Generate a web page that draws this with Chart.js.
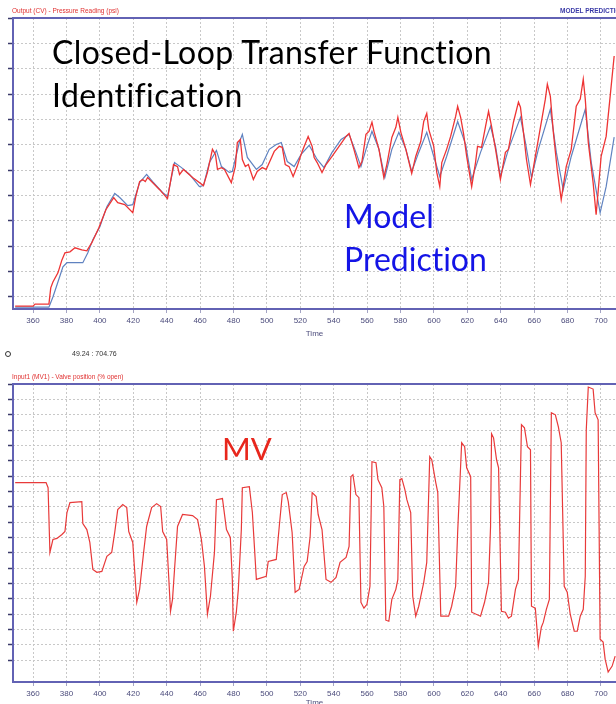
<!DOCTYPE html>
<html>
<head>
<meta charset="utf-8">
<script src="https://cdn.jsdelivr.net/npm/chart.js@4.4.0/dist/chart.umd.min.js"></script>
<style>
  html, body { margin: 0; padding: 0; background: #fff; }
  body { width: 616px; height: 704px; overflow: hidden; position: relative; }
  .wrap { position: absolute; left: 0; width: 616px; }
  #top-wrap { top: 0; height: 345px; }
  #bot-wrap { top: 345px; height: 370px; }
  .note { position: absolute; white-space: nowrap; line-height: 1; }
  .small { font-family: "Liberation Sans", Arial, sans-serif; font-size: 6.5px; }
  .big { font-family: Lato, "Open Sans", sans-serif; font-variant-ligatures: none; }
  .dot { position: absolute; left: 5px; top: 351px; width: 4px; height: 4px; border: 1px solid #333; border-radius: 50%; }
</style>
</head>
<body>
<div class="wrap" id="top-wrap"><canvas id="cvChart" width="616" height="345"></canvas></div>
<div class="wrap" id="bot-wrap"><canvas id="mvChart" width="616" height="370"></canvas></div>

<div class="note small" style="left:12px;top:8px;color:#e03030">Output (CV) - Pressure Reading (psi)</div>
<div class="note small" style="left:560px;top:8px;color:#3b3ba8;font-weight:bold">MODEL PREDICTION</div>
<div class="dot"></div>
<div class="note small" style="left:72px;top:350px;color:#333;font-size:7px">49.24 : 704.76</div>
<div class="note small" style="left:12px;top:374px;color:#e03030">Input1 (MV1) - Valve position (% open)</div>

<div class="note big" style="left:52px;top:36px;font-size:32px;letter-spacing:0.4px;color:#000">Closed-Loop Transfer Function</div>
<div class="note big" style="left:52px;top:79px;font-size:32px;letter-spacing:0.4px;color:#000">Identification</div>
<div class="note big" style="left:344px;top:200px;font-size:32px;color:#1414e6">Model</div>
<div class="note big" style="left:344px;top:243px;font-size:32px;color:#1414e6">Prediction</div>
<div class="note big" style="left:222px;top:433px;font-size:31px;color:#e8261c">MV</div>

<script>
// Time axis (shared)
const xMin = 348;
const xMax = 709;
const xStep = 20;

// Top chart: measured CV (red) and model prediction (blue), one unit per grid line
const cvMin = -0.475;
const cvMax = 11;
const cvTime = [349.3,360.0,361.2,369.5,370.6,371.9,374.9,377.3,379.1,382.1,385.1,389.2,392.2,395.2,399.4,403.6,408.3,410.7,414.9,419.7,
  421.5,423.8,425.6,427.2,428.6,435.8,440.5,444.1,446.5,447.7,450.1,455.5,462.0,464.4,467.4,469.2,470.4,472.8,474.6,478.7,
  481.1,482.3,484.1,485.3,487.1,488.9,491.9,494.2,497.2,499.6,504.4,507.4,509.2,511.0,513.3,515.7,518.1,521.1,524.7,527.1,
  528.3,530.1,533.0,535.4,539.0,543.2,547.4,549.2,552.1,555.1,556.9,559.3,561.1,562.9,564.1,567.1,570.0,571.8,574.8,577.2,
  578.4,580.2,583.2,586.7,589.1,592.1,593.9,595.7,596.9,599.9,601.7,603.5,604.7,607.6,610.0,613.0,614.2,616.0,617.8,619.6,
  622.6,624.9,626.1,628.5,630.9,632.7,634.5,636.9,639.8,642.8,644.6,647.6,650.6,651.8,653.6,655.4,657.8,660.7,662.5,666.7,
  667.9,669.7,671.5,673.8,676.2,679.2,682.2,685.2,687.6,689.4,690.6,692.4,695.3,697.1,700.1,703.1,705.5,707.9];
const cvValue = [-0.36,-0.36,-0.28,-0.28,0.36,0.59,0.95,1.46,1.74,1.78,1.94,1.86,1.82,2.14,2.73,3.44,3.92,3.72,3.64,3.32,
  3.96,4.55,4.63,4.55,4.71,4.23,3.88,5.22,5.14,4.83,5.03,4.71,4.39,4.91,5.82,5.62,5.03,5.10,5.03,4.51,
  5.14,6.09,6.21,5.42,5.14,5.22,4.63,4.95,5.10,5.03,5.74,5.94,5.90,5.22,5.14,4.75,5.14,5.74,6.33,5.94,
  5.50,5.30,4.91,5.22,5.54,5.94,6.33,6.45,5.82,5.10,5.34,6.41,6.53,6.89,6.53,5.82,4.71,5.22,6.29,6.69,
  7.08,6.49,5.82,4.87,5.54,6.13,6.92,7.24,6.61,5.94,4.91,4.35,5.30,5.82,6.33,7.12,7.52,7.08,6.41,5.54,
  4.35,5.30,5.94,5.90,6.73,7.32,6.73,5.82,4.63,5.70,5.82,6.89,7.68,7.48,6.49,5.42,4.43,5.54,6.21,7.80,
  8.39,7.91,6.49,5.03,3.84,5.14,5.82,7.52,7.80,8.59,7.80,6.09,4.51,3.24,5.54,6.33,7.91,9.50];

const modelTime = [349.3,369.5,371.9,374.9,377.9,380.3,389.8,392.8,395.8,400.0,404.2,408.9,411.9,416.7,419.7,423.8,428.0,431.6,437.5,440.5,
  444.7,448.9,453.7,459.6,462.0,465.6,469.8,472.8,477.5,479.3,483.5,485.3,488.3,493.7,497.2,501.4,505.6,508.6,512.2,516.3,
  520.5,525.3,530.1,534.2,539.0,544.4,549.2,553.3,556.3,559.9,562.9,567.1,570.6,574.8,579.0,583.2,586.7,590.9,595.7,599.9,
  603.5,607.6,614.2,619.0,622.6,627.9,633.9,636.9,639.8,644.6,651.8,654.8,658.4,662.5,669.7,673.3,677.4,682.2,690.6,694.2,
  699.5,703.1,707.9];
const modelValue = [-0.40,-0.40,0.00,0.59,1.19,1.35,1.35,1.74,2.26,2.77,3.56,4.08,3.92,3.60,3.64,4.51,4.83,4.55,4.12,3.96,
  5.30,5.10,4.83,4.35,4.39,5.30,5.78,5.14,4.91,4.95,6.09,6.41,5.50,5.03,5.22,5.82,6.01,6.09,5.34,5.14,
  5.62,5.98,5.42,5.10,5.70,6.21,6.41,5.70,5.14,5.94,6.53,5.82,4.71,5.82,6.49,5.82,4.95,5.70,6.49,5.54,
  4.75,5.54,6.92,6.01,4.63,5.70,6.73,5.94,4.75,5.82,7.08,6.09,4.71,5.82,7.40,5.70,4.23,5.54,7.40,5.30,
  3.32,4.35,6.30];

// Bottom chart: MV1 valve position, one unit per grid line
const mvMin = -1.43;
const mvMax = 18;
const mvTime = [349.3,367.8,369.0,370.1,371.9,374.3,377.3,379.1,380.3,382.1,389.2,389.8,392.2,394.0,395.8,398.2,401.2,404.2,407.1,408.9,
  410.7,413.7,416.1,417.3,419.7,422.1,423.8,426.2,428.0,431.0,434.0,436.4,437.6,440.0,441.2,442.3,443.5,444.7,446.5,449.5,
  455.5,458.5,460.8,462.6,464.4,466.2,468.6,469.8,473.4,475.8,478.1,479.3,479.9,481.7,482.9,484.7,485.3,489.5,491.3,493.7,
  499.6,500.8,505.6,507.4,509.2,511.6,512.8,515.1,516.9,519.3,522.3,524.1,525.9,527.1,529.5,530.7,533.0,535.4,538.4,541.4,
  543.8,547.4,549.2,550.3,551.5,553.3,555.1,556.3,558.1,559.9,561.7,562.9,565.3,566.5,568.8,570.0,571.2,573.0,574.8,577.2,
  578.4,579.6,580.8,582.6,583.8,586.1,587.3,589.1,590.9,593.9,595.7,597.5,598.7,601.1,602.3,604.1,608.8,610.6,613.0,614.2,
  616.6,618.4,619.6,622.0,622.6,627.9,630.3,632.7,633.9,634.5,635.7,637.5,638.7,640.4,642.8,644.6,646.4,648.8,650.6,652.4,
  654.2,656.0,657.8,658.4,660.7,662.5,664.3,665.5,667.3,669.1,670.3,672.7,674.5,676.2,678.0,679.8,681.6,684.0,685.8,687.6,
  689.4,690.6,691.2,692.4,695.3,696.5,698.3,699.5,701.3,702.5,704.3,706.7,708.5];
const mvValue = [11.57,11.57,11.24,7.02,7.86,7.93,8.19,8.38,9.62,10.27,10.33,8.90,8.51,7.67,5.91,5.72,5.78,6.76,7.02,8.32,
  9.81,10.14,9.94,8.38,7.67,3.77,4.61,7.02,8.71,9.94,10.20,10.01,8.38,7.86,5.46,3.18,3.96,5.91,8.71,9.49,
  9.42,9.16,7.86,6.11,2.99,4.16,7.02,10.46,10.53,8.51,7.99,5.26,1.88,3.12,4.61,8.51,11.24,11.31,9.62,5.26,
  5.46,6.43,6.56,8.71,10.79,10.92,10.33,8.32,4.42,4.61,6.11,6.43,8.06,10.92,10.66,9.49,8.51,5.26,5.07,5.39,
  6.37,6.69,7.41,11.96,12.09,10.79,10.59,3.77,3.38,3.64,4.81,12.93,12.87,11.76,11.24,10.01,2.60,2.53,3.96,4.61,
  5.26,11.76,11.83,11.11,10.46,9.62,4.16,2.86,3.51,5.07,6.37,13.26,13.06,11.57,10.92,2.86,2.86,3.51,4.81,8.32,
  14.17,13.91,12.54,11.96,3.12,2.86,3.77,5.07,8.71,14.75,14.49,13.06,12.54,3.18,3.12,2.73,2.86,4.61,5.26,15.34,
  15.14,13.91,13.71,3.51,3.38,0.91,2.14,2.47,3.31,3.96,16.12,15.99,15.21,14.17,4.81,4.42,2.99,1.88,1.88,2.86,
  3.31,5.46,15.01,17.80,17.67,16.12,15.66,1.36,1.17,0.06,-0.78,-0.39,0.26];

const toPoints = (xs, ys) => xs.map((x, i) => ({ x: x, y: ys[i] }));

const gridColor = '#c8c8c8';
const axisText = '#4c4c7c';
const tickFont = { family: '"Liberation Sans", Arial, sans-serif', size: 8 };

// blue-purple box round the plot area
const framePlugin = {
    id: 'frame',
    afterDatasetsDraw(chart) {
        const { ctx, chartArea: a } = chart;
        ctx.save();
        ctx.strokeStyle = '#6262b4';
        ctx.lineWidth = 2;
        ctx.strokeRect(a.left, a.top, a.right - a.left + 4, a.bottom - a.top);
        ctx.restore();
    }
};

function timeAxis(axisHeight, titlePad) {
    return {
        type: 'linear', min: xMin, max: xMax,
        afterFit: s => { s.height = axisHeight; },
        ticks: { stepSize: xStep, includeBounds: false, autoSkip: false, maxRotation: 0,
                 color: axisText, font: tickFont, padding: 3 },
        grid: { color: gridColor, tickColor: '#a4a4c4', tickLength: 4 },
        border: { display: false, dash: [2, 2] },
        title: { display: true, text: 'Time', color: axisText, font: tickFont,
                 padding: { top: 0, bottom: titlePad } }
    };
}

function valueAxis(min, max) {
    return {
        min: min, max: max,
        afterFit: s => { s.width = 13; },
        afterBuildTicks: s => { s.ticks = s.ticks.filter(t => t.value >= 0); },
        ticks: { display: false, stepSize: 1, includeBounds: false },
        grid: { color: gridColor, tickColor: '#3a3a6a', tickLength: 5, tickWidth: 1.5 },
        border: { display: false, dash: [2, 2] }
    };
}

const lineStyle = { pointRadius: 0, tension: 0, fill: false };

new Chart(document.getElementById('cvChart'), {
    type: 'line',
    data: {
        datasets: [
            { ...lineStyle, label: 'Output (CV)', data: toPoints(cvTime, cvValue), borderColor: '#ee3434', borderWidth: 1.3 },
            { ...lineStyle, label: 'Model prediction', data: toPoints(modelTime, modelValue), borderColor: '#5f82c0', borderWidth: 1.2 }
        ]
    },
    options: {
        responsive: false, animation: false,
        layout: { padding: { top: 18, left: 0, right: 0, bottom: 0 } },
        plugins: { legend: { display: false }, tooltip: { enabled: false } },
        scales: { x: timeAxis(36, 6), y: valueAxis(cvMin, cvMax) }
    },
    plugins: [framePlugin]
});

new Chart(document.getElementById('mvChart'), {
    type: 'line',
    data: {
        datasets: [
            { ...lineStyle, label: 'Input1 (MV1)', data: toPoints(mvTime, mvValue), borderColor: '#e83a3a', borderWidth: 1.2 }
        ]
    },
    options: {
        responsive: false, animation: false,
        layout: { padding: { top: 39, left: 0, right: 0, bottom: 0 } },
        plugins: { legend: { display: false }, tooltip: { enabled: false } },
        scales: { x: timeAxis(33, 7), y: valueAxis(mvMin, mvMax) }
    },
    plugins: [framePlugin]
});
</script>
</body>
</html>
